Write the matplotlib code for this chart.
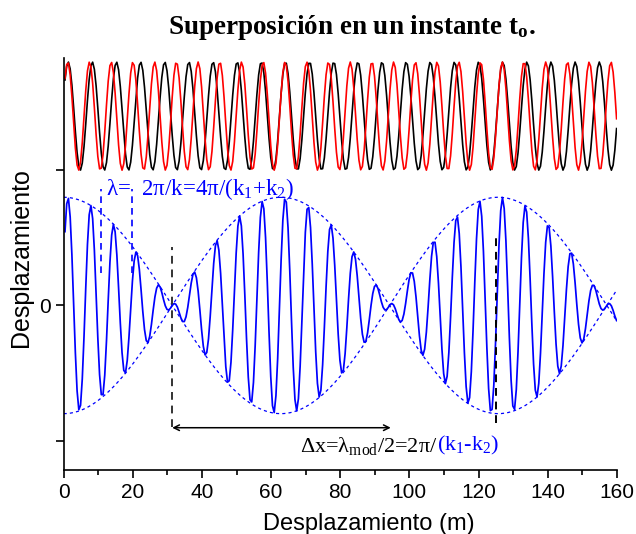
import numpy as np
import matplotlib
matplotlib.use("Agg")
import matplotlib.pyplot as plt
from matplotlib.ticker import MultipleLocator

plt.rcParams['mathtext.fontset'] = 'custom'
plt.rcParams['mathtext.rm'] = 'Liberation Serif'
plt.rcParams['mathtext.it'] = 'Liberation Serif:italic'
plt.rcParams['mathtext.bf'] = 'Liberation Serif:bold'
plt.rcParams['font.family'] = ['Liberation Sans', 'DejaVu Sans']

# ---- data ----
x_start, x_end, x_step = 0.4, 160.0, 0.5   # sampling of the plotted curves
k1 = 1.0          # wave number of wave 1 (red)
k2 = 0.9          # wave number of wave 2 (black)
amp = 1.0         # amplitude of each wave
phase = -1.2      # common phase at x = 0
top_offset = 3.5  # vertical offset of the two individual waves

lam_lines_x = [10.9, 19.9]          # blue dashed markers of lambda
lam_lines_y = [(0.6, 2.15), (0.6, 2.15)]
node_x = 31.4                       # black dashed marker at node
node_y = (-2.25, 1.08)
antinode_x = 125.0                  # black dashed marker near antinode
antinode_y = (-2.17, 1.28)
arrow_x = (31.4, 94.6)
arrow_y = -2.26

xticks = [0, 20, 40, 60, 80, 100, 120, 140, 160]
yticks = [-2.5, 0, 2.5]
ytick_labels = ['', '0', '']

# ---- curves ----
x = np.arange(x_start, x_end + 1e-9, x_step)
y1 = amp * np.cos(k1 * x + phase)
y2 = amp * np.cos(k2 * x + phase)
ysum = y1 + y2
xe = np.linspace(0, 160, 800)
env = 2 * amp * np.cos((k1 - k2) / 2 * xe)

fig = plt.figure(figsize=(6.36, 5.34), dpi=100)
ax = fig.add_axes([0.1, 0.12, 0.870, 0.772])

ax.plot(x, y2 + top_offset, color='black', lw=1.2)
ax.plot(x, y1 + top_offset, color='red', lw=1.2)
ax.plot(x, ysum, color='blue', lw=1.25)
ax.plot(xe, env, color='blue', lw=0.9, ls=(0, (2.5, 2.5)))
ax.plot(xe, -env, color='blue', lw=0.9, ls=(0, (2.5, 2.5)))

for lx, (ya, yb) in zip(lam_lines_x, lam_lines_y):
    ax.plot([lx, lx], [ya, yb], color='blue', lw=1.2, ls=(0, (4, 3)))
ax.plot([node_x, node_x], node_y, color='#333333', lw=1.4, ls=(0, (4, 3)))
ax.plot([antinode_x, antinode_x], antinode_y, color='black', lw=1.4, ls=(0, (4, 3)))
ax.annotate('', xy=(arrow_x[0], arrow_y), xytext=(arrow_x[1], arrow_y),
            arrowprops=dict(arrowstyle='<->', color='black', lw=1.1,
                            shrinkA=0, shrinkB=0, mutation_scale=10))

ax.text(12.4, 2.04, r'λ=  2π/k=4π/(k$_1$+k$_2$)', color='blue', fontsize=16.5,
        family='Liberation Serif', ha='left', va='baseline')
t1 = ax.text(68.3, -2.70, r'Δx=λ$_{\mathrm{mod}}$/2=2π/', color='black', fontsize=16,
             family='Liberation Serif', ha='left', va='baseline')
ax.annotate(r'(k$_1$-k$_2$)', xy=(1, 0), xycoords=t1, xytext=(0, 0),
            textcoords='offset points', color='blue', fontsize=16,
            family='Liberation Serif', ha='left', va='bottom')

ax.set_xlim(0, 160)
ax.set_ylim(-3.04, 4.58)
ax.set_xticks(xticks)
ax.xaxis.set_minor_locator(MultipleLocator(10))
ax.set_yticks(yticks)
ax.set_yticklabels(ytick_labels)
ax.spines['top'].set_visible(False)
ax.spines['right'].set_visible(False)
ax.spines['left'].set_linewidth(1.2)
ax.spines['bottom'].set_linewidth(1.2)
ax.tick_params(axis='both', which='major', direction='out', length=6, width=1.2,
               labelsize=15)
ax.tick_params(axis='x', which='minor', direction='out', length=3.5, width=1.2)
ax.set_xlabel('Desplazamiento (m)', fontsize=17)
ax.set_ylabel('Desplazamiento', fontsize=18)
ax.xaxis.set_label_coords(0.552, -0.105)
ax.yaxis.set_label_coords(-0.056, 0.515)

fig.text(0.553, 0.948, r'Superposición en un instante t$_\mathbf{o}$.', ha='center',
         va='center', fontsize=19.5, fontweight='bold', family='Liberation Serif')

fig.savefig('out.png', dpi=100)
